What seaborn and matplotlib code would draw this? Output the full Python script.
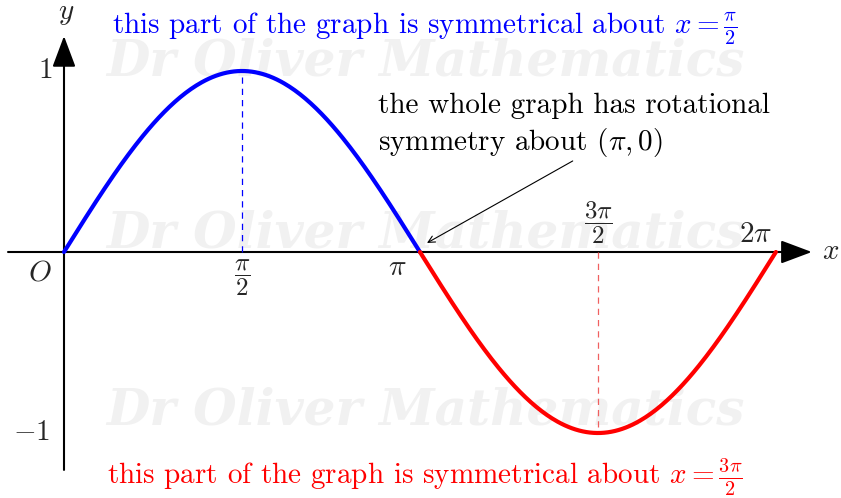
import numpy as np
import pandas as pd
import matplotlib
matplotlib.use("Agg")
import matplotlib.pyplot as plt
import seaborn as sns

# ---- data ----
x_ticks = [np.pi / 2, np.pi, 3 * np.pi / 2, 2 * np.pi]
x_tick_labels = [r"$\dfrac{\pi}{2}$", r"$\pi$", r"$\dfrac{3\pi}{2}$", r"$2\pi$"]
y_ticks = [1, -1]
y_tick_labels = [r"$1$", r"$-1$"]
x_blue = np.linspace(0, np.pi, 200)
y_blue = np.sin(x_blue)
x_red = np.linspace(np.pi, 2 * np.pi, 200)
y_red = np.sin(x_red)
top_note = r"this part of the graph is symmetrical about $x=\frac{\pi}{2}$"
bottom_note = r"this part of the graph is symmetrical about $x=\frac{3\pi}{2}$"
rot_note = "the whole graph has rotational\nsymmetry about $(\\pi, 0)$"
watermark = "Dr Oliver Mathematics"

sns.set_theme(style="white")
plt.rcParams["font.family"] = ["cmr10", "DejaVu Serif"]
plt.rcParams["mathtext.fontset"] = "cm"
plt.rcParams["axes.unicode_minus"] = False

fig = plt.figure(figsize=(8.41, 4.98), dpi=100)
ax = fig.add_axes([0, 0, 1, 1])
ax.set_xlim(-64 / 113.3, (841 - 64) / 113.3)
ax.set_ylim(-(498 - 252) / 181, 252 / 181)

# watermark
for wy in [1.05, 0.10, -0.88]:
    ax.text(3.19, wy, watermark, fontsize=36, color="#f1f1f1",
            family="DejaVu Serif", style="italic", fontweight="bold",
            ha="center", va="center", zorder=0)

# axes with arrows
ax.annotate("", xy=(6.60, 0), xytext=(-0.494, 0),
            arrowprops=dict(arrowstyle="-|>,head_length=1.6,head_width=0.6",
                            lw=1.5, color="black", shrinkA=0, shrinkB=0), zorder=2)
ax.annotate("", xy=(0, 1.193), xytext=(0, -1.204),
            arrowprops=dict(arrowstyle="-|>,head_length=1.6,head_width=0.6",
                            lw=1.5, color="black", shrinkA=0, shrinkB=0), zorder=2)

# dashed symmetry lines
ax.plot([np.pi / 2, np.pi / 2], [0, 1], ls=(0, (5, 4)), lw=0.9, color="blue", zorder=2)
ax.plot([3 * np.pi / 2, 3 * np.pi / 2], [0, -1], ls=(0, (5, 4)), lw=0.9,
        color="#f06060", zorder=2)

# curves
sns.lineplot(data=pd.DataFrame({"x": x_blue, "y": y_blue}), x="x", y="y",
             color="blue", lw=3, ax=ax, zorder=3, sort=False)
sns.lineplot(data=pd.DataFrame({"x": x_red, "y": y_red}), x="x", y="y",
             color="red", lw=3, ax=ax, zorder=3, sort=False)
ax.axis("off")

fs = 21
ffs = 18
# tick labels
ax.text(x_ticks[0], -0.144, x_tick_labels[0], fontsize=ffs, ha="center", va="center")
ax.text(2.94, -0.088, x_tick_labels[1], fontsize=fs, ha="center", va="center")
ax.text(x_ticks[2], 0.165, x_tick_labels[2], fontsize=ffs, ha="center", va="center")
ax.text(6.108, 0.094, x_tick_labels[3], fontsize=fs, ha="center", va="center")
ax.text(-0.106, y_ticks[0], y_tick_labels[0], fontsize=fs, ha="right", va="center")
ax.text(-0.124, y_ticks[1], y_tick_labels[1], fontsize=fs, ha="right", va="center")
ax.text(-0.21, -0.116, r"$O$", fontsize=fs, ha="center", va="center")
ax.text(6.69, 0, r"$x$", fontsize=fs, ha="left", va="center")
ax.text(0.02, 1.315, r"$y$", fontsize=fs, ha="center", va="center")

# notes
ax.text(3.186, 1.235, top_note, fontsize=fs, color="blue", ha="center", va="center")
ax.text(3.186, -1.245, bottom_note, fontsize=fs, color="red", ha="center", va="center")
ax.text(2.77, 0.696, rot_note, fontsize=fs, color="black", ha="left", va="center",
        linespacing=1.3)
ax.annotate("", xy=(3.204, 0.05), xytext=(4.49, 0.503),
            arrowprops=dict(arrowstyle="->", lw=0.8, color="black",
                            shrinkA=0, shrinkB=0), zorder=4)

fig.savefig("out.png", dpi=100)
